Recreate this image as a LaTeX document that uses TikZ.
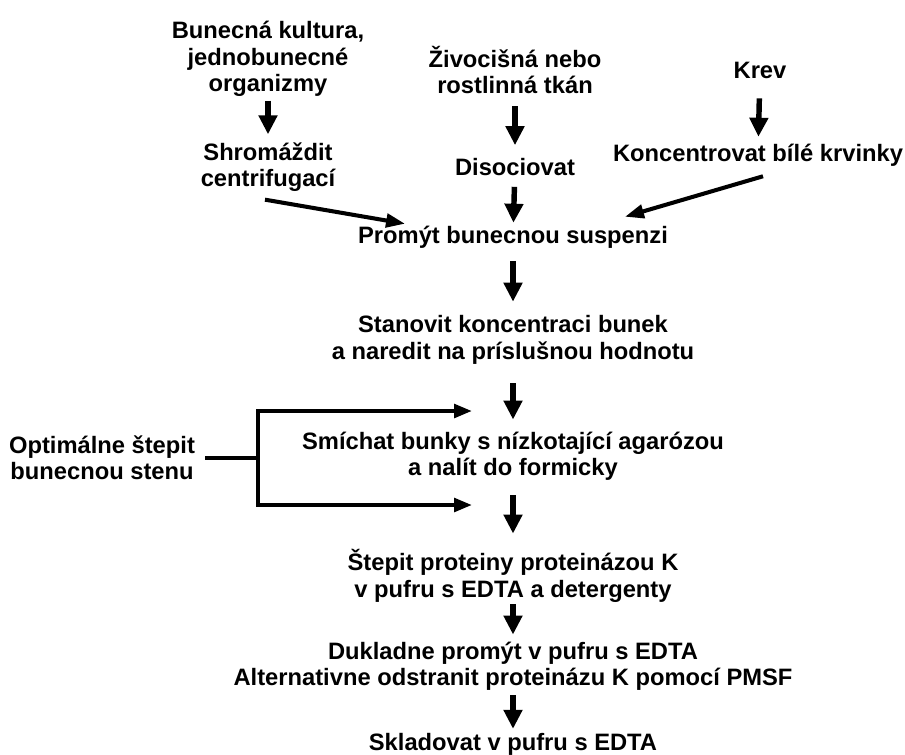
\documentclass[tikz,border=0pt]{standalone}
\usepackage{fontspec}
\setmainfont{Liberation Sans}
\usetikzlibrary{arrows.meta,calc}
\newlength\px
\setlength\px{0.02cm}

\begin{document}
\begin{tikzpicture}[x=0.02cm,y=-0.02cm,
    txt/.style={align=center,font=\fontsize{13.5}{15}\selectfont\bfseries,inner sep=1pt},
    dn/.style={line width=3.1pt,-{Triangle[length=0.38cm,width=0.36cm]}},
    sk/.style={line width=2.3pt,-{Triangle[length=0.38cm,width=0.27cm]}},
    bar/.style={line width=2.3pt}]
  \useasboundingbox (0,0) rectangle (905,754);
  % three starting materials
  \node[txt] (kultura) at (268,59) {Bunecná kultura,\\jednobunecné\\organizmy};
  \node[txt] (tkan) at (515,70) {Živocišná nebo\\rostlinná tkán};
  \node[txt] (krev) at (760,70) {Krev};
  \node[txt] (shrom) at (268,167) {Shromáždit\\centrifugací};
  \node[txt] (disoc) at (515,167) {Disociovat};
  \node[txt] (koncent) at (758,155) {Koncentrovat bílé krvinky};
  % main column
  \node[txt] (promyt) at (513,237) {Promýt bunecnou suspenzi};
  \node[txt] (stanovit) at (513,340) {Stanovit koncentraci bunek\\a naredit na príslušnou hodnotu};
  \node[txt] (smichat) at (513,456) {Smíchat bunky s nízkotající agarózou\\a nalít do formicky};
  \node[txt] (optim) at (102,458) {Optimálne štepit\\bunecnou stenu};
  \node[txt] (stepit) at (513,576) {Štepit proteiny proteinázou K\\v pufru s EDTA a detergenty};
  \node[txt] (dukl) at (513,666) {Dukladne promýt v pufru s EDTA\\Alternativne odstranit proteinázu K pomocí PMSF};
  \node[txt] (sklad) at (513,744) {Skladovat v pufru s EDTA};

  \draw[dn,shorten <=2\px,shorten >=6\px] (kultura) -- (shrom);
  \draw[dn,shorten <=10\px,shorten >=11\px] (tkan) -- (disoc);
  \draw[dn,shorten <=18\px,shorten >=5\px] (krev) -- (koncent);
  \draw[dn,shorten <=9\px,shorten >=1\px] (disoc) -- (promyt);
  \draw[sk] ($(shrom.south)+(-3,6)$) -- ($(promyt.north west)+(49,0)$);
  \draw[sk] ($(koncent.south)+(5,8)$) -- ($(promyt.north east)+(-45,-7)$);
  \draw[dn,shorten <=11\px,shorten >=12\px] (promyt) -- (stanovit);
  \draw[dn,shorten <=17\px,shorten >=10\px] (stanovit) -- (smichat);
  \draw[dn,shorten <=13\px,shorten >=14\px] (smichat) -- (stepit);
  \draw[dn,shorten <=0\px,shorten >=5\px] (stepit) -- (dukl);
  \draw[dn,shorten <=3\px,shorten >=2\px] (dukl) -- (sklad);

  % side branch
  \coordinate (jtop) at (258,411);
  \coordinate (jbot) at (258,505);
  \coordinate (ttop) at (472,411);
  \coordinate (tbot) at (472,505);
  \draw[bar,shorten <=8\px] (optim.east) -- (optim.east -| jtop);
  \draw[bar,{Triangle[length=0.36cm,width=0.27cm]}-{Triangle[length=0.36cm,width=0.27cm]}] (ttop) -- (jtop) -- (jbot) -- (tbot);
\end{tikzpicture}
\end{document}
